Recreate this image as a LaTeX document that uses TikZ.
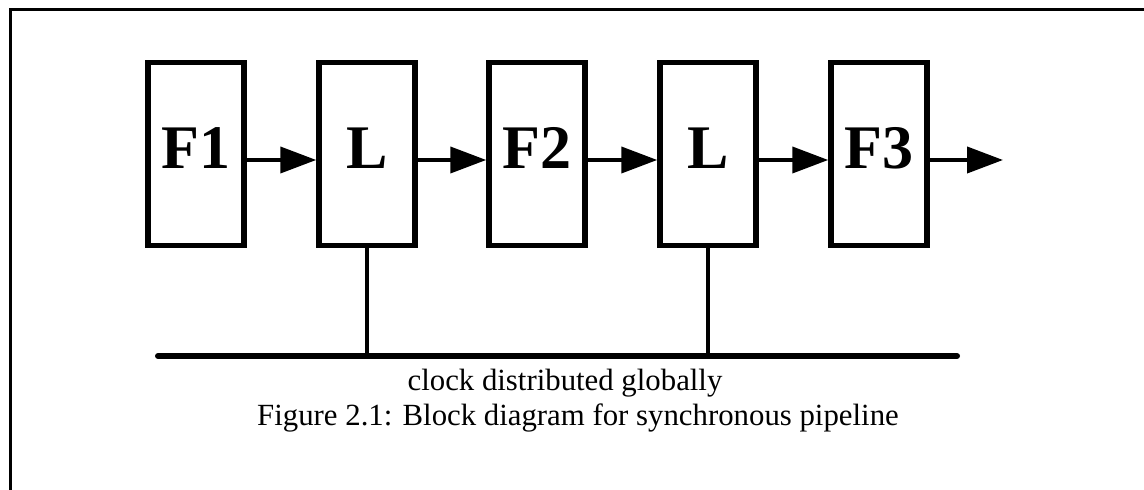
\documentclass[tikz,border=0pt]{standalone}
\usepackage{fontspec}
\setmainfont{Liberation Serif}
\usetikzlibrary{arrows.meta}
\begin{document}
\begin{tikzpicture}[x=0.5pt,y=-0.5pt,
  blk/.style={draw, line width=2.75pt, minimum width=48pt, minimum height=91.5pt,
    inner sep=0pt, text depth=6pt, font=\fontsize{31}{31}\selectfont\bfseries},
  flow/.style={line width=2pt, -{Triangle[length=18pt,width=13pt]}},
  wire/.style={line width=2pt},
  bus/.style={line width=3pt, line cap=round},
  lbl/.style={font=\fontsize{15.4}{18}\selectfont, anchor=base, inner sep=0pt}]
\useasboundingbox (0,0) rectangle (1144,490);
% frame
\draw[line width=1.5pt] (10,490) -- (10,10) -- (1144,10);
% blocks
\node[blk] (F1) at (196,154) {F1};
\node[blk] (L1) at (367,154) {L};
\node[blk] (F2) at (537,154) {F2};
\node[blk] (L2) at (708,154) {L};
\node[blk] (F3) at (879,154) {F3};
\coordinate (out) at (1003,160);
% data flow
\draw[flow] ([yshift=-3pt]F1.east) -- ([yshift=-3pt]L1.west);
\draw[flow] ([yshift=-3pt]L1.east) -- ([yshift=-3pt]F2.west);
\draw[flow] ([yshift=-3pt]F2.east) -- ([yshift=-3pt]L2.west);
\draw[flow] ([yshift=-3pt]L2.east) -- ([yshift=-3pt]F3.west);
\draw[flow] ([yshift=-3pt]F3.east) -- (out);
% clock
\coordinate (clkL) at (158,356);
\coordinate (clkR) at (957,356);
\draw[bus] (clkL) -- (clkR);
\draw[wire] (L1.south) -- (L1.south |- clkL);
\draw[wire] (L2.south) -- (L2.south |- clkL);
% labels
\node[lbl] (clk) at (565,391) {clock distributed globally};
\node[lbl] (cap) at (578,426) {Figure 2.1: Block diagram for synchronous pipeline};
\end{tikzpicture}
\end{document}
